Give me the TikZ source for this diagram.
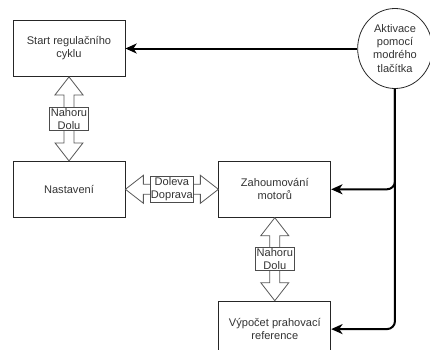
\documentclass[tikz,border=0pt]{standalone}
\usepackage{fontspec}
\setmainfont{Liberation Sans}
\usetikzlibrary{arrows.meta,positioning,shapes.geometric,calc}

\begin{document}
\begin{tikzpicture}[
		x=0.75pt, y=-0.75pt,
		font=\fontsize{8.3}{9.8}\selectfont,
		>={Stealth[length=8.5pt,width=7.5pt,inset=2.5pt]},
		stepbox/.style={draw=black!85, line width=0.6pt, minimum width=84pt, minimum height=42pt, align=center, text=black!80},
		actnode/.style={ellipse, draw=black!85, line width=0.6pt, minimum width=56pt, minimum height=60pt, inner sep=0pt, align=center, text=black!80},
		tagbox/.style={draw=black!70, fill=white, line width=0.6pt, inner sep=0.8pt, align=center, text=black!80},
		fatarrow/.style={draw=black!65, fill=white, line width=0.6pt},
		arrow/.style={line width=1.5pt, ->},
		node distance=63pt and 69.75pt,
		pics/dblarrow/.style={code={
				\path[fatarrow] (0,0) -- (18,-14) -- (18,-5) -- (#1-18,-5) -- (#1-18,-14) -- (#1,0)
				-- (#1-18,14) -- (#1-18,5) -- (18,5) -- (18,14) -- cycle;
		}}
		]

		\useasboundingbox (0,0) rectangle (430,350);

		% steps
		\node[stepbox] (start) at (69,48.5) {Start regulačního\\cyklu};
		\node[stepbox,below=of start] (nast) {Nastavení};
		\node[stepbox,right=of nast] (zah) {Zahoumování\\motorů};
		\node[stepbox,below=62.25pt of zah] (vyp) {Výpočet prahovací\\reference};
		\node[actnode] (act) at (395,48.5) {Aktivace\\pomocí\\modrého\\tlačítka};

		% moves between steps
		\pic[rotate=-90] at (start.south) {dblarrow=84};
		\pic at (nast.east) {dblarrow=93};
		\pic[rotate=-90] at (zah.south) {dblarrow=83};
		\node[tagbox] (ud1) at ($(start.south)!0.5!(nast.north)$) {Nahoru\\Dolu};
		\node[tagbox] (lr) at ($(nast.east)!0.5!(zah.west)$) {Doleva\\Doprava};
		\node[tagbox] (ud2) at ($(zah.south)!0.5!(vyp.north)$) {Nahoru\\Dolu};

		% button
		\draw[arrow] (act) -- (start);
		\draw[arrow,rounded corners=6pt] (act.south) |- (zah.east);
		\draw[arrow,rounded corners=6pt] (act.south) |- (vyp.east);
	\end{tikzpicture}
\end{document}
